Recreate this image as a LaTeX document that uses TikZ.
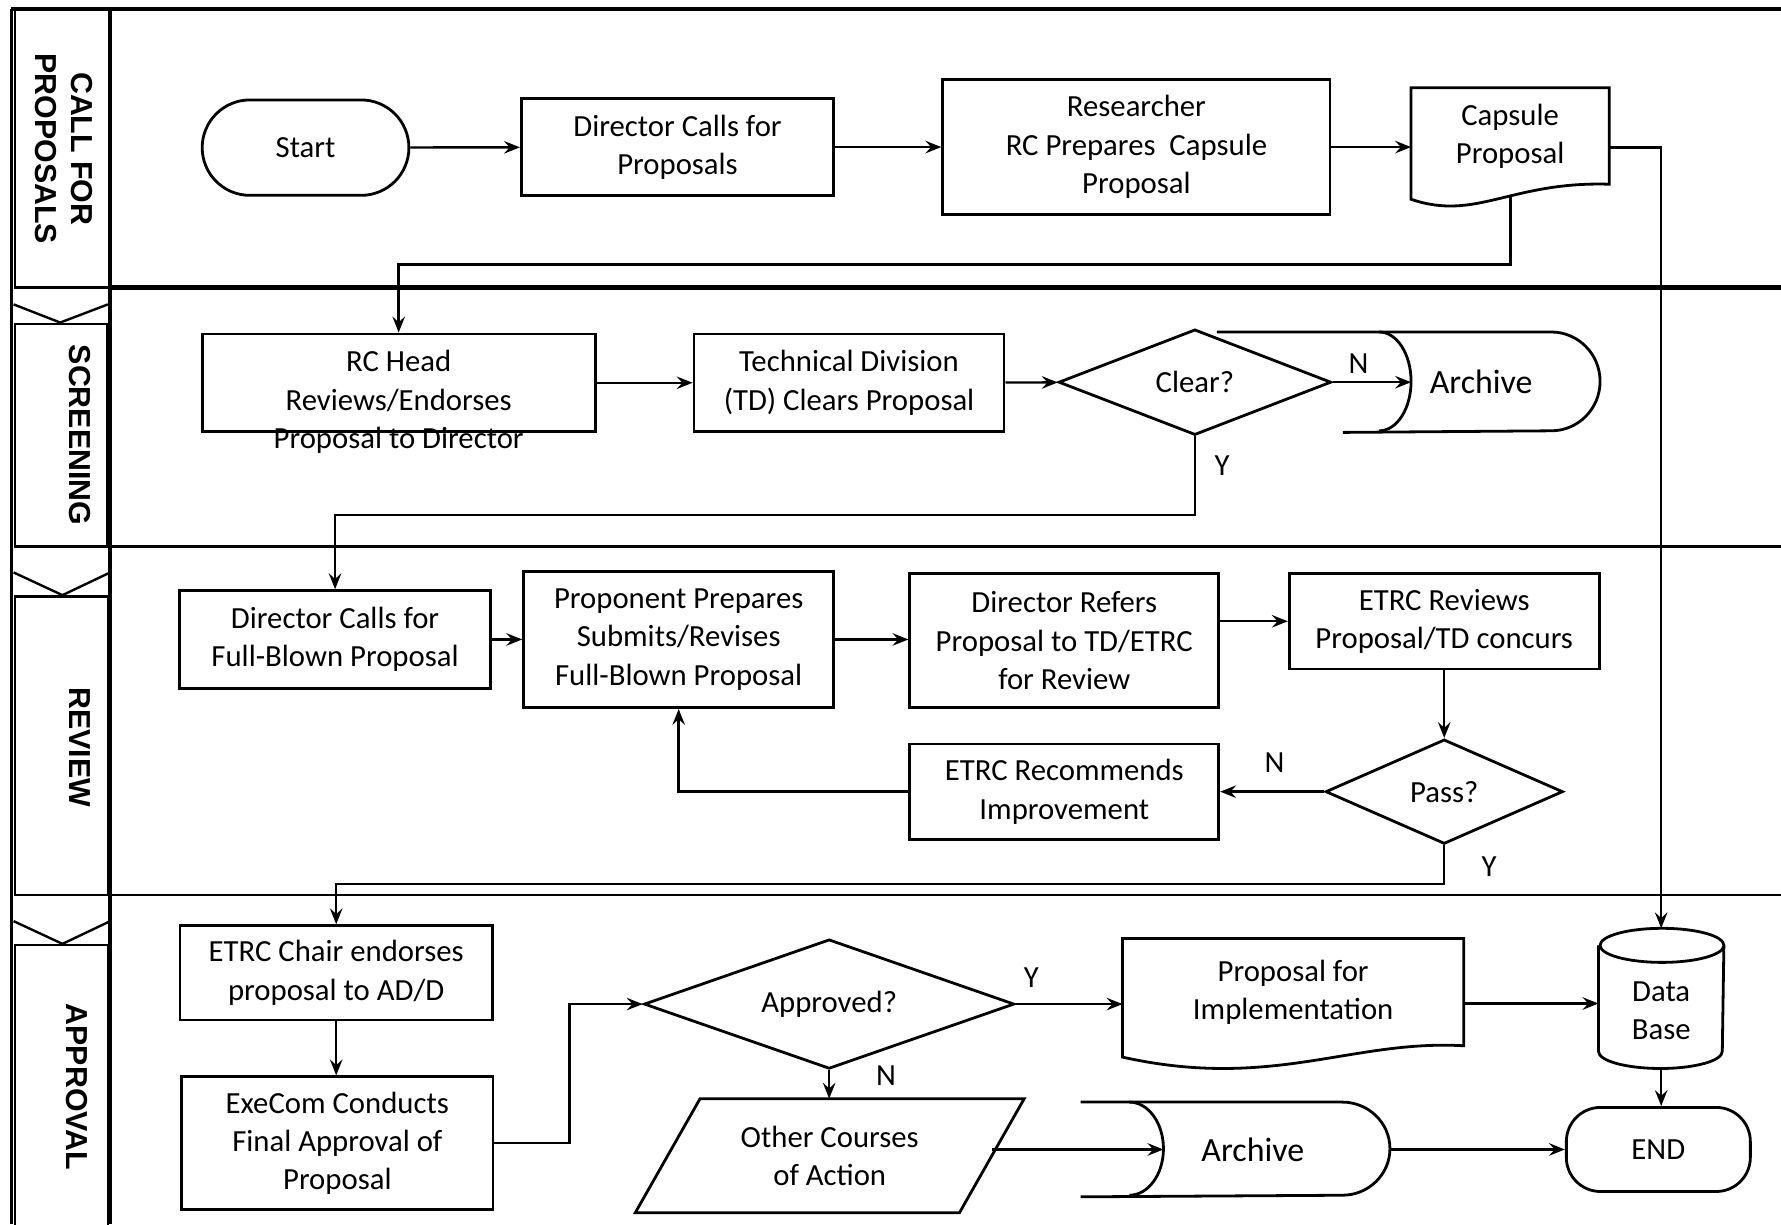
\documentclass[tikz,border=0pt]{standalone}
\usepackage{fontspec}
\setmainfont{Carlito}
\newfontfamily\lanefont{Liberation Sans}
\usetikzlibrary{arrows.meta,shapes.geometric,shapes.misc}

\begin{document}
\begin{tikzpicture}[
    every node/.style={font=\fontsize{7.7}{9.6}\selectfont},
    box/.style={draw,line width=0.7pt,rectangle,align=center,inner sep=0pt},
    term/.style={draw,line width=0.7pt,rounded rectangle,inner sep=0pt},
    dec/.style={draw,line width=0.7pt,diamond,aspect=2.8,inner sep=0pt},
    plain/.style={inner sep=0pt,align=center},
    big/.style={font=\fontsize{8.5}{10}\selectfont},
    lane/.style={font=\lanefont\bfseries\fontsize{7.6}{9.1}\selectfont,rotate=-90,align=center},
    shp/.style={line width=0.7pt},
    arr/.style={line width=0.6pt,-{Stealth[length=1.4mm,width=1.1mm,inset=0.5mm]}}]
    \useasboundingbox (0,0) rectangle (15.68,-10.78);
    \draw[line width=0.9pt] (0.10,-0.08) -- (15.68,-0.08);
    \draw[line width=1.3pt] (0.97,-2.53) -- (15.68,-2.53);
    \draw[line width=0.6pt] (0.97,-4.81) -- (15.68,-4.81) (0.97,-7.88) -- (15.68,-7.88);
    \draw[line width=0.7pt] (0.10,-0.08) -- (0.10,-10.78);
    \draw[line width=1pt] (0.97,-0.08) -- (0.97,-10.78);
    \draw[line width=0.6pt] (0.13,-0.08) rectangle (0.97,-2.53) (0.13,-2.85) rectangle (0.94,-4.81);
    \draw[line width=0.6pt] (0.13,-5.25) rectangle (0.95,-7.88) (0.13,-8.32) rectangle (0.95,-10.85);
    \draw[line width=0.6pt] (0.12,-2.68) -- (0.53,-2.84) -- (0.95,-2.68);
    \draw[line width=0.6pt] (0.12,-5.04) -- (0.55,-5.24) -- (0.97,-5.04);
    \draw[line width=0.6pt] (0.12,-8.11) -- (0.55,-8.31) -- (0.97,-8.11);
    \node[lane] (lcall) at (0.56,-1.31) {CALL FOR\\PROPOSALS};
    \node[lane] (lscr) at (0.70,-3.83) {SCREENING};
    \node[lane] (lrev) at (0.70,-6.58) {REVIEW};
    \node[lane] (lapp) at (0.68,-9.57) {APPROVAL};

    \node[term,minimum width=1.82cm,minimum height=0.84cm] (start) at (2.69,-1.30) {Start};
    \node[box,minimum width=2.75cm,minimum height=0.85cm] (dcall) at (5.965,-1.295) {Director Calls for\\Proposals};
    \node[box,minimum width=3.41cm,minimum height=1.19cm] (resr) at (10.005,-1.295) {Researcher\\RC Prepares\ \ Capsule\\Proposal};
    \node[plain,minimum width=1.73cm,minimum height=0.835cm] (caps) at (13.295,-1.1975) {Capsule\\Proposal};
    \draw[shp] ([yshift=-1.33mm]caps.south west) -- (caps.north west) -- (caps.north east) -- (caps.south east) .. controls (13.3,-1.595) and (13.0,-1.95) .. cycle;
    \coordinate (capsb) at (13.30,-1.73);
    \draw[arr] (start) -- (dcall); \draw[arr] (dcall) -- (resr);
    \draw[arr] (resr.east) -- (resr.east -| caps.west);

    \node[box,minimum width=3.46cm,minimum height=0.86cm,label={[plain,yshift=-0.17cm]center:RC Head\\Reviews/Endorses\\Proposal to Director}] (rchead) at (3.51,-3.37) {};
    \node[box,minimum width=2.73cm,minimum height=0.86cm] (tdiv) at (7.475,-3.37) {Technical Division\\(TD) Clears Proposal};
    \node[dec,minimum width=2.40cm,minimum height=0.93cm] (clear) at (10.52,-3.365) {Clear?};
    \node[plain,big,minimum width=1.22cm,minimum height=0.87cm] (arch1) at (13.04,-3.365) {Archive};
    \draw[shp] ([xshift=-1.71cm]arch1.north west) -- (arch1.north east) arc[start angle=90,end angle=-90,x radius=0.43cm,y radius=0.435cm] -- ([xshift=-0.6cm]arch1.south west);
    \draw[shp] ([xshift=-0.28cm]arch1.north west) arc[start angle=90,end angle=-90,x radius=0.28cm,y radius=0.435cm];
    \draw[arr] (capsb) -- ++(0,-0.6) -| (rchead);
    \draw[arr] (rchead) -- (tdiv); \draw[arr] (tdiv) -- (clear); \draw[arr] (clear) -- (arch1);
    \node[plain] (n1) at (11.96,-3.20) {N}; \node[plain] (y1) at (10.76,-4.10) {Y};

    \node[box,minimum width=2.74cm,minimum height=0.86cm] (dfull) at (2.95,-5.63) {Director Calls for\\Full-Blown Proposal};
    \node[box,minimum width=2.73cm,minimum height=1.20cm] (prop) at (5.975,-5.63) {Proponent Prepares\\Submits/Revises\\Full-Blown Proposal};
    \node[box,minimum width=2.72cm,minimum height=1.18cm] (dref) at (9.37,-5.64) {Director Refers\\Proposal to TD/ETRC\\for Review};
    \node[box,minimum width=2.73cm,minimum height=0.84cm] (etrc) at (12.715,-5.47) {ETRC Reviews\\Proposal/TD concurs};
    \node[dec,minimum width=2.09cm,minimum height=0.92cm] (pass) at (12.715,-6.97) {Pass?};
    \node[box,minimum width=2.72cm,minimum height=0.84cm] (erec) at (9.37,-6.97) {ETRC Recommends\\Improvement};
    \draw[arr] (clear.south) -- ++(0,-0.69) -| (dfull);
    \draw[arr] (dfull) -- (prop); \draw[arr] (prop) -- (prop -| dref.west);
    \draw[arr] (dref.east |- etrc) -- (etrc); \draw[arr] (etrc) -- (pass);
    \draw[arr] (pass) -- (erec); \draw[arr] (erec.west) -| (prop.south);
    \node[plain] (n2) at (11.22,-6.71) {N}; \node[plain] (y2) at (13.11,-7.63) {Y};

    \node[box,minimum width=2.75cm,minimum height=0.83cm] (echair) at (2.96,-8.565) {ETRC Chair endorses\\proposal to AD/D};
    \node[box,minimum width=2.74cm,minimum height=1.17cm] (execom) at (2.97,-10.065) {ExeCom Conducts\\Final Approval of\\Proposal};
    \node[dec,minimum width=3.26cm,minimum height=1.14cm] (appr) at (7.30,-8.84) {Approved?};
    \node[plain,minimum width=2.99cm,minimum height=0.93cm] (pfi) at (11.385,-8.735) {Proposal for\\Implementation};
    \draw[shp] ([yshift=-1mm]pfi.south west) -- (pfi.north west) -- (pfi.north east) -- (pfi.south east) .. controls (11.9,-9.15) and (11.2,-9.6) .. cycle;
    \node[plain,minimum width=1.09cm,minimum height=1.22cm,label={[plain,yshift=-0.11cm]center:Data\\Base}] (db) at (14.625,-8.79) {};
    \draw[shp] ([yshift=-1.5mm]db.north west) -- ([yshift=1.5mm]db.south west) arc[start angle=180,end angle=360,x radius=0.545cm,y radius=0.15cm] -- ([yshift=-1.5mm]db.north east) arc[start angle=0,end angle=360,x radius=0.545cm,y radius=0.15cm];
    \node[plain,minimum width=3.41cm,minimum height=0.99cm] (other) at (7.305,-10.175) {Other Courses\\of Action};
    \draw[shp] ([xshift=0.57cm]other.north west) -- (other.north east) -- ([xshift=-0.57cm]other.south east) -- (other.south west) -- cycle;
    \node[plain,big,minimum width=1.56cm,minimum height=0.82cm] (arch2) at (11.03,-10.12) {Archive};
    \draw[shp] ([xshift=-0.73cm]arch2.north west) -- (arch2.north east) arc[start angle=90,end angle=-90,x radius=0.42cm,y radius=0.41cm] -- ([xshift=-0.73cm]arch2.south west);
    \draw[shp] ([xshift=-0.3cm]arch2.north west) arc[start angle=90,end angle=-90,x radius=0.3cm,y radius=0.41cm];
    \node[box,rounded corners=0.3cm,minimum width=1.62cm,minimum height=0.74cm] (endn) at (14.60,-10.12) {END};
    \draw[arr] ([yshift=-1mm]caps.east) -| (db.north);
    \draw[arr] (pass.south) -- ++(0,-0.34) -| (echair);
    \draw[arr] (echair.south) -- (echair.south |- execom.north);
    \draw[arr] (execom.east) -- ++(0.66,0) |- (appr.west);
    \draw[arr] (appr) -- (appr -| pfi.west);
    \draw[arr] ([yshift=-1mm]pfi.east) -- ([yshift=-1mm]pfi.east -| db.west);
    \draw[arr] (appr.south) -- (appr.south |- other.north);
    \draw[arr] ([xshift=-2.85mm]other.east |- arch2.west) -- (arch2.west);
    \draw[arr] ([xshift=4.2mm]arch2.east) -- (arch2.east -| endn.west);
    \draw[arr] (db.south) -- (db.south |- endn.north);
    \node[plain] (y3) at (9.08,-8.61) {Y}; \node[plain] (n3) at (7.80,-9.47) {N};
  \end{tikzpicture}
\end{document}
